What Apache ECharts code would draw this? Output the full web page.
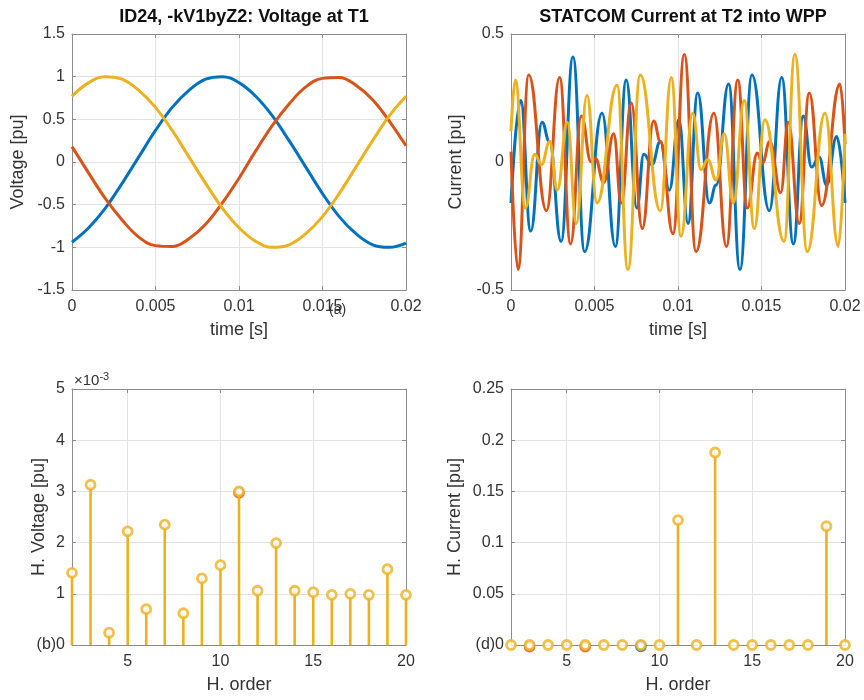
<!DOCTYPE html>
<html>
<head>
<meta charset="UTF-8">
<title>Voltage and current at T1/T2</title>
<script src="https://cdn.jsdelivr.net/npm/echarts@6/dist/echarts.min.js"></script>
</head>
<body style="margin:0;background:#fff">
<div id="main" style="width:864px;height:700px;"></div>
<script type="text/javascript">
    // (a) voltage at T1, sampled every 1 ms
    var voltTime = [0, 0.001, 0.002, 0.003, 0.004, 0.005, 0.006, 0.007, 0.008, 0.009, 0.010,
        0.011, 0.012, 0.013, 0.014, 0.015, 0.016, 0.017, 0.018, 0.019, 0.020];
    var voltBlue = [-0.94, -0.77, -0.54, -0.25, 0.06, 0.37, 0.64, 0.84, 0.97, 1.00, 0.93,
        0.77, 0.54, 0.25, -0.06, -0.37, -0.64, -0.84, -0.97, -1.00, -0.95];
    var voltRed = [0.18, -0.13, -0.43, -0.68, -0.88, -0.98, -0.99, -0.90, -0.73, -0.48, -0.19,
        0.13, 0.43, 0.68, 0.88, 0.98, 0.99, 0.90, 0.73, 0.48, 0.19];
    var voltYellow = [0.77, 0.93, 1.00, 0.97, 0.84, 0.64, 0.37, 0.06, -0.25, -0.54, -0.77,
        -0.93, -1.00, -0.97, -0.84, -0.64, -0.37, -0.06, 0.25, 0.54, 0.77];

    // (c) STATCOM current, turning points [t (s), i (pu)]
    var curBlue = [[0, -0.16], [0.00058, 0.24], [0.00118, -0.27], [0.00186, 0.155], [0.0023, 0.08],
        [0.0030, -0.31], [0.00371, 0.41], [0.00441, -0.35], [0.00545, 0.19], [0.00625, -0.33],
        [0.0069, 0.32], [0.00754, -0.18], [0.00795, 0.03], [0.00844, -0.01], [0.00894, 0.08],
        [0.00948, -0.11], [0.01005, 0.165], [0.0106, -0.24], [0.01118, 0.27], [0.01188, -0.16],
        [0.01228, -0.09], [0.01303, 0.305], [0.01371, -0.42], [0.01443, 0.34], [0.01547, -0.19],
        [0.01621, 0.33], [0.01691, -0.32], [0.0175, 0.18], [0.0180, -0.02], [0.01845, 0.02],
        [0.0189, -0.09], [0.0195, 0.10], [0.0200, -0.16]];
    var curRed = [[0, 0.04], [0.00042, -0.42], [0.00106, 0.34], [0.00212, -0.19], [0.00291, 0.33],
        [0.00357, -0.32], [0.00421, 0.18], [0.0048, 0.0], [0.00505, 0.015], [0.00555, -0.08],
        [0.00615, 0.11], [0.0066, -0.16], [0.0072, 0.23], [0.00786, -0.26], [0.00854, 0.16],
        [0.00895, 0.08], [0.0097, -0.28], [0.01038, 0.42], [0.01108, -0.35], [0.01215, 0.19],
        [0.0129, -0.33], [0.01358, 0.32], [0.01415, -0.18], [0.01475, 0.035], [0.01505, -0.005],
        [0.0155, 0.08], [0.01615, -0.12], [0.0166, 0.155], [0.01726, -0.24], [0.01786, 0.27],
        [0.0186, -0.17], [0.0197, 0.305], [0.0200, 0.07]];
    var curYellow = [[0, 0.12], [0.00026, 0.32], [0.00086, -0.18], [0.00142, 0.03], [0.00182, -0.01],
        [0.00232, 0.08], [0.00277, -0.11], [0.00337, 0.155], [0.00391, -0.24], [0.00455, 0.26],
        [0.00515, -0.16], [0.00635, 0.30], [0.0070, -0.42], [0.00774, 0.34], [0.00894, -0.19],
        [0.0096, 0.33], [0.01018, -0.29], [0.01088, 0.19], [0.01138, -0.03], [0.01178, 0.01],
        [0.01228, -0.07], [0.01277, 0.11], [0.01331, -0.16], [0.01397, 0.24], [0.01457, -0.26],
        [0.0152, 0.165], [0.01635, -0.31], [0.0170, 0.42], [0.01774, -0.35], [0.0188, 0.19],
        [0.0196, -0.33], [0.0200, 0.11]];

    // (b), (d) harmonic spectra, orders 2..20
    var hOrder = [2, 3, 4, 5, 6, 7, 8, 9, 10, 11, 12, 13, 14, 15, 16, 17, 18, 19, 20];
    var hVoltage = [1.41, 3.13, 0.24, 2.22, 0.70, 2.35, 0.62, 1.30, 1.56, 3.00,
        1.06, 1.99, 1.06, 1.03, 0.98, 1.00, 0.98, 1.48, 0.98];          // x 10^-3 pu
    var hCurrent = [0, 0, 0, 0, 0, 0, 0, 0, 0, 0.122, 0, 0.188, 0, 0, 0, 0, 0, 0.116, 0];
    // other phases peeking out under the yellow markers
    var hVoltRedPeek = [[11, 2.97]];
    var hCurRedPeek = [[3, -0.0015], [6, -0.0015]];
    var hCurBluePeek = [[9, -0.0012]];
    var hOrderTicks = [5, 10, 15, 20];

    var C_BLUE = '#0072BD', C_RED = '#D95319', C_YEL = '#EDB120';
    var AX = '#8c8c8c', TXT = '#333333', GRID = '#e3e3e3';
    var FONT = 'Liberation Sans, Arial, sans-serif';

    var myChart = echarts.init(document.getElementById('main'));

    var grids = [
        {left: 72, top: 34, width: 334, height: 256},
        {left: 511, top: 34, width: 334, height: 256},
        {left: 72, top: 389, width: 334, height: 256},
        {left: 511, top: 389, width: 334, height: 256}
    ];

    function pairs(xs, ys) {
        return xs.map(function (x, i) { return [x, ys[i]]; });
    }

    function xPair(g, min, max, interval, name, custom) {
        var tick = {show: true, inside: true, length: 4, lineStyle: {color: AX}};
        var bottom = {
            gridIndex: g, type: 'value', position: 'bottom', min: min, max: max, interval: interval,
            name: name, nameLocation: 'middle', nameGap: 31, nameMoveOverlap: false,
            nameTextStyle: {color: TXT, fontSize: 18, fontFamily: FONT},
            axisLine: {show: true, onZero: false, lineStyle: {color: AX}},
            axisTick: tick,
            axisLabel: {color: TXT, fontSize: 16, fontFamily: FONT, margin: 9},
            splitLine: {show: true, lineStyle: {color: GRID}}
        };
        var top = {
            gridIndex: g, type: 'value', position: 'top', min: min, max: max, interval: interval,
            axisLine: {show: true, onZero: false, lineStyle: {color: AX}},
            axisTick: tick, axisLabel: {show: false}, splitLine: {show: false}
        };
        if (custom) {
            bottom.axisTick = Object.assign({customValues: custom}, tick);
            bottom.axisLabel.customValues = custom;
            top.axisTick = Object.assign({customValues: custom}, tick);
        }
        return [bottom, top];
    }

    function yPair(g, min, max, interval, name, gap, fmt) {
        var tick = {show: true, inside: true, length: 4, lineStyle: {color: AX}};
        return [{
            gridIndex: g, type: 'value', position: 'left', min: min, max: max, interval: interval,
            name: name, nameLocation: 'middle', nameGap: gap, nameMoveOverlap: false,
            nameTextStyle: {color: TXT, fontSize: 18, fontFamily: FONT},
            axisLine: {show: true, onZero: false, lineStyle: {color: AX}},
            axisTick: tick,
            axisLabel: {color: TXT, fontSize: 16, fontFamily: FONT, margin: 7, formatter: fmt},
            splitLine: {show: true, lineStyle: {color: GRID}}
        }, {
            gridIndex: g, type: 'value', position: 'right', min: min, max: max, interval: interval,
            axisLine: {show: true, onZero: false, lineStyle: {color: AX}},
            axisTick: tick, axisLabel: {show: false}, splitLine: {show: false}
        }];
    }

    function waveLine(g, data, color, mono) {
        return {
            type: 'line', xAxisIndex: 2 * g, yAxisIndex: 2 * g, data: data,
            showSymbol: false, smooth: mono ? 0.45 : 0.4, smoothMonotone: mono ? 'x' : undefined,
            lineStyle: {color: color, width: 3}, itemStyle: {color: color}, silent: true
        };
    }

    function rings(g, data, color, z) {
        return {
            type: 'scatter', xAxisIndex: 2 * g, yAxisIndex: 2 * g, data: data,
            symbol: 'circle', symbolSize: 9, clip: false,
            itemStyle: {color: '#fff', borderColor: color, borderWidth: 2.8},
            silent: true, z: z
        };
    }

    function stems(g, data, color) {
        return [{
            type: 'bar', xAxisIndex: 2 * g, yAxisIndex: 2 * g, data: data, barWidth: 2.6,
            itemStyle: {color: color}, silent: true, z: 3
        }, rings(g, data, color, 4)];
    }

    var option = {
        backgroundColor: '#fff',
        animation: false,
        textStyle: {fontFamily: FONT},
        title: [
            {text: 'ID24, -kV1byZ2: Voltage at T1', left: 239, top: 3, textAlign: 'center',
                textStyle: {fontSize: 18, fontWeight: 'bold', color: '#111', fontFamily: FONT}},
            {text: 'STATCOM Current at T2 into WPP', left: 678, top: 3, textAlign: 'center',
                textStyle: {fontSize: 18, fontWeight: 'bold', color: '#111', fontFamily: FONT}}
        ],
        grid: grids,
        xAxis: [].concat(
            xPair(0, 0, 0.02, 0.005, 'time [s]'),
            xPair(1, 0, 0.02, 0.005, 'time [s]'),
            xPair(2, 2, 20, null, 'H. order', hOrderTicks),
            xPair(3, 2, 20, null, 'H. order', hOrderTicks)
        ),
        yAxis: [].concat(
            yPair(0, -1.5, 1.5, 0.5, 'Voltage [pu]', 45),
            yPair(1, -0.5, 0.5, 0.5, 'Current [pu]', 46),
            yPair(2, 0, 5, 1, 'H. Voltage [pu]', 24, function (v) { return v === 0 ? '(b)0' : v; }),
            yPair(3, 0, 0.25, 0.05, 'H. Current [pu]', 47, function (v) { return v === 0 ? '(d)0' : v; })
        ),
        graphic: [
            {type: 'text', left: 74, top: 371, style: {
                text: '×10{s|-3}', fill: TXT, font: '15px ' + FONT,
                rich: {s: {fontSize: 11, verticalAlign: 'top', fill: TXT, padding: [0, 0, 8, 0]}}
            }},
            {type: 'text', left: 329, top: 303, style: {text: '(a)', fill: TXT, font: '14px ' + FONT}}
        ],
        series: [
            waveLine(0, pairs(voltTime, voltBlue), C_BLUE, false),
            waveLine(0, pairs(voltTime, voltRed), C_RED, false),
            waveLine(0, pairs(voltTime, voltYellow), C_YEL, false),
            waveLine(1, curBlue, C_BLUE, true),
            waveLine(1, curRed, C_RED, true),
            waveLine(1, curYellow, C_YEL, true),
            rings(2, hVoltRedPeek, C_RED, 2),
            rings(3, hCurRedPeek, C_RED, 2),
            rings(3, hCurBluePeek, C_BLUE, 2)
        ].concat(
            stems(2, pairs(hOrder, hVoltage), C_YEL),
            stems(3, pairs(hOrder, hCurrent), C_YEL)
        )
    };

    myChart.setOption(option);
</script>
</body>
</html>
